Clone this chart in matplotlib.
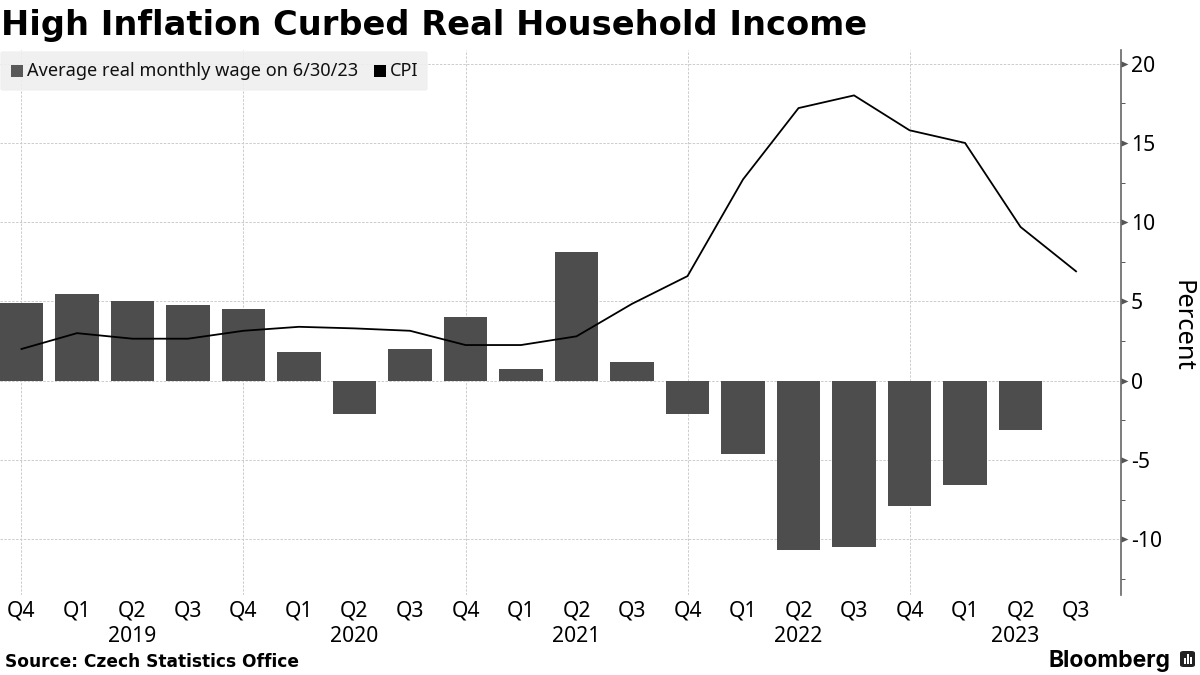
import numpy as np
import matplotlib
matplotlib.use("Agg")
import matplotlib.pyplot as plt
from matplotlib.patches import Rectangle, FancyBboxPatch
from matplotlib.path import Path

quarters = ["Q4", "Q1", "Q2", "Q3", "Q4", "Q1", "Q2", "Q3", "Q4", "Q1", "Q2", "Q3",
            "Q4", "Q1", "Q2", "Q3", "Q4", "Q1", "Q2", "Q3"]
wage = [4.9, 5.5, 5.05, 4.8, 4.5, 1.8, -2.1, 2.0, 4.0, 0.75, 8.15, 1.2,
        -2.1, -4.6, -10.7, -10.5, -7.9, -6.6, -3.1, np.nan]
cpi = [2.0, 3.0, 2.65, 2.65, 3.15, 3.4, 3.3, 3.15, 2.25, 2.25, 2.8, 4.85,
       6.6, 12.7, 17.2, 18.0, 15.8, 15.0, 9.7, 6.9]
years = ["2019", "2020", "2021", "2022", "2023"]
year_centers = [2, 6, 10, 14, 17.9]
yticks = [-10, -5, 0, 5, 10, 15, 20]
minor_ticks = [-12.5, -7.5, -2.5, 2.5, 7.5, 12.5, 17.5]
vgrid = [0, 4, 8, 12, 16]

W, H = 1200, 675
FONT = "Noto Sans"
BAR = "#4d4d4d"
fig = plt.figure(figsize=(12, 6.75), dpi=100, facecolor="white")
ax = fig.add_axes([0, (H - 595) / H, 1121 / W, (595 - 50) / H])
def fx(x): return x / W
def fy(y): return 1 - y / H

x = np.arange(len(quarters))
ax.bar(x, wage, width=0.78, color=BAR, zorder=3)
ax.plot(x, cpi, color="black", lw=1.3, zorder=4, solid_joinstyle="miter")

ax.set_xlim(-0.387, 19.81)
ax.set_ylim((380.7 - 595) / 15.85, (380.7 - 50) / 15.85)
ax.yaxis.tick_right()
ax.set_yticks(yticks)
ax.set_yticks(minor_ticks, minor=True)
ax.set_yticklabels([str(v) for v in yticks], fontsize=15.2, family=FONT, color="black")
ax.tick_params(axis="y", which="major", length=0, pad=7)
ax.tick_params(axis="y", which="minor", length=3, width=0.7, color="#555555")
ax.set_xticks(x)
ax.set_xticklabels(quarters, fontsize=15.2, family=FONT, color="black")
ax.tick_params(axis="x", length=0, pad=4)
for s in ["top", "left", "bottom"]:
    ax.spines[s].set_visible(False)
ax.spines["right"].set_color("#666666")
ax.spines["right"].set_linewidth(1.2)
ax.grid(False)
for v in yticks:
    ax.axhline(v, color="#cccccc", lw=0.7, ls=(0, (2.5, 1.5)), zorder=1)
for v in vgrid:
    ax.axvline(v, color="#cccccc", lw=0.7, ls=(0, (2.5, 1.5)), zorder=1)

tri = Path([(0, -0.45), (1, 0), (0, 0.45), (0, -0.45)], closed=True)
ax.plot([1] * len(yticks), yticks, transform=ax.get_yaxis_transform(), ls="none",
        marker=tri, ms=10, mfc="#555555", mec="none", clip_on=False, zorder=5)

for c, y in zip(year_centers, years):
    ax.text(c, (595 - 637) / 545, y, transform=ax.get_xaxis_transform(), clip_on=False,
            fontsize=15.2, family=FONT, ha="center", va="center")

fig.text(fx(1182), fy(326), "Percent", rotation=-90, fontsize=18.4, family=FONT,
         ha="center", va="center")
fig.text(fx(1), fy(26), "High Inflation Curbed Real Household Income", fontsize=24.25,
         family="DejaVu Sans", weight="bold", ha="left", va="center")
fig.text(fx(5), fy(662), "Source: Czech Statistics Office", fontsize=12.27,
         family="DejaVu Sans", weight="bold", ha="left", va="center")
fig.text(fx(1048), fy(661), "Bloomberg", fontsize=16.5, family="Inter", weight="bold",
         ha="left", va="center")

# legend panel
fig.patches.append(FancyBboxPatch((fx(1), fy(90)), fx(426), 38 / H,
    boxstyle="round,pad=0,rounding_size=0.002", transform=fig.transFigure,
    fc="#efefef", ec="#efefef", alpha=0.88, zorder=6))
fig.patches.append(Rectangle((fx(11), fy(77)), 12 / W, 12 / H, transform=fig.transFigure,
                             fc="#595959", ec="none", zorder=7))
fig.patches.append(Rectangle((fx(374), fy(77)), 12 / W, 12 / H, transform=fig.transFigure,
                             fc="black", ec="none", zorder=7))
fig.text(fx(27), fy(71), "Average real monthly wage on 6/30/23", fontsize=13.05, family=FONT,
         ha="left", va="center", zorder=8, color="#111111")
fig.text(fx(390), fy(71), "CPI", fontsize=13.05, family=FONT, ha="left", va="center",
         zorder=8, color="#111111")

# Bloomberg glyph
fig.patches.append(FancyBboxPatch((fx(1180), fy(667)), 15 / W, 16 / H,
    boxstyle="round,pad=0,rounding_size=0.003", transform=fig.transFigure,
    fc="#222222", ec="none", zorder=7))
for bx, bh in zip([1184, 1187, 1190], [6, 10, 7]):
    fig.patches.append(Rectangle((fx(bx), fy(664)), 1.6 / W, bh / H,
                                 transform=fig.transFigure, fc="white", ec="none", zorder=8))

fig.savefig("out.png", dpi=100)
